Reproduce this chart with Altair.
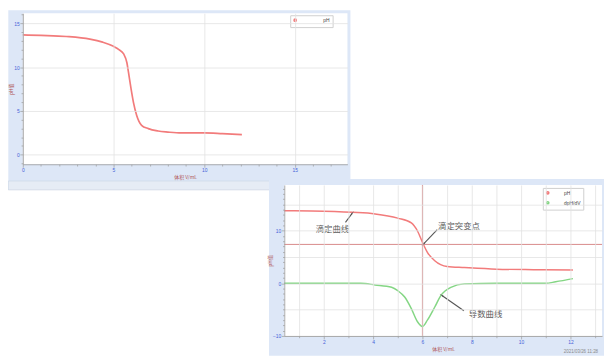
import math
import altair as alt
import pandas as pd

# ---------------- data ----------------
# Panel 1 (titration curve)
V1 = [0.0, 1.0, 2.4, 3.7, 4.4, 5.0, 5.3, 5.56, 5.74, 5.83, 5.97, 6.1, 6.28, 6.55, 6.92, 7.46, 8.0, 8.73, 10.0, 11.0, 12.08]
PH1 = [13.68, 13.62, 13.5, 13.2, 12.85, 12.37, 12.0, 11.5, 10.5, 9.36, 7.5, 5.97, 4.47, 3.35, 2.97, 2.7, 2.58, 2.48, 2.48, 2.4, 2.29]

# Panel 2 (titration curve + derivative curve)
V2 = [0.4, 1.5, 3.15, 4.08, 5.0, 5.55, 5.8, 6.0, 6.2, 6.5, 7.0, 7.7, 9.0, 10.5, 12.1]
PH2 = [13.8, 13.75, 13.5, 13.2, 12.4, 11.5, 9.95, 7.8, 5.9, 4.3, 3.2, 3.0, 2.7, 2.6, 2.55]
VD = [0.4, 2.0, 3.5, 4.08, 4.75, 5.0, 5.28, 5.55, 5.8, 6.0, 6.2, 6.5, 6.75, 7.15, 7.7, 9.0, 11.0, 11.4, 12.1]
DPH = [0.0, 0.0, 0.0, -0.3, -0.75, -1.4, -2.6, -4.8, -7.3, -8.2, -7.0, -4.5, -2.3, -0.75, -0.1, 0.0, 0.0, 0.3, 0.9]

SERIES = ["pH", "dpH/dV"]
EQ_V = 6.0
EQ_PH = 7.4

ANN_TEXT = ["滴定曲线", "滴定突变点", "导数曲线"]
ANN_X = [2.35, 7.48, 8.56]
ANN_Y = [10.3, 10.8, -5.8]
ARR_X1 = [2.88, 6.6, 7.68]
ARR_Y1 = [11.6, 10.2, -5.2]
ARR_X2 = [3.15, 6.05, 6.79]
ARR_Y2 = [13.3, 7.5, -2.3]

X_TITLE = "体积 V/mL"
Y_TITLE = "pH值"
STAMP = "2021/03/26 11:28"

# ---------------- styles ----------------
W1, H1 = 329, 153
W2, H2 = 322, 153
X1_DOM = [0, 17.9]
Y1_DOM = [-1.1, 16.15]
X2_DOM = [0.4, 13.28]
Y2_DOM = [-10.0, 18.7]

RED = "#f27b7b"
GREEN = "#84d684"
CROSS = "#d88a8a"
FRAME = "#dde7f7"
BAND = "#e6ecf5"
GRID = "#e2e2e2"
LABEL = "#4563d8"
TITLE = "#b05555"
CJK = "Noto Sans CJK SC"

one = pd.DataFrame({"a": [0]})


def is_mult(step):
    return f"abs(datum.value/{step} - round(datum.value/{step})) < 0.001"


def make_axis(count, tick_step, grid_step, label_step, title, tpad, orient):
    return alt.Axis(
        tickCount=count,
        title=title,
        format="d",
        titleFont=CJK,
        titleFontSize=5,
        titleColor=TITLE,
        titleFontWeight="normal",
        titlePadding=tpad,
        labelExpr=f"{is_mult(label_step)} ? datum.label : ''",
        labelFont="Liberation Sans",
        labelFontSize=5,
        labelColor=LABEL,
        labelFlush=False,
        labelOverlap=False,
        labelPadding=0.5,
        grid=True,
        gridColor=GRID,
        gridWidth=0.8,
        gridOpacity={"condition": {"test": is_mult(grid_step), "value": 1}, "value": 0},
        tickColor="#9a9a9a",
        tickWidth=0.7,
        tickOpacity={"condition": {"test": is_mult(tick_step), "value": 1}, "value": 0},
        tickSize={"condition": {"test": is_mult(label_step), "value": 3}, "value": 1.8},
        domainColor="#9a9a9a",
        domainWidth=0.8,
        zindex=1,
        orient=orient,
    )


def frame_layers(w, h, left, top, right, bottom):
    frame = alt.Chart(one).mark_rect(color=FRAME).encode(
        x=alt.value(-left), x2=alt.value(w + right),
        y=alt.value(-top), y2=alt.value(h + bottom))
    white = alt.Chart(one).mark_rect(color="white").encode(
        x=alt.value(0), x2=alt.value(w), y=alt.value(0), y2=alt.value(h))
    return frame, white


# ---------------- panel 1 ----------------
df1 = pd.DataFrame({"V": V1, "pH": PH1, "series": SERIES[0]})
xs1 = alt.Scale(domain=X1_DOM, nice=False, zero=False)
ys1 = alt.Scale(domain=Y1_DOM, nice=False, zero=False)

frame1, white1 = frame_layers(W1, H1, 14.7, 3, 3, 26)
band1 = alt.Chart(one).mark_rect(color=BAND, stroke="#c9d3e2", strokeWidth=0.6).encode(
    x=alt.value(-14.7), x2=alt.value(W1 + 3), y=alt.value(H1 + 17), y2=alt.value(H1 + 26))

line1 = alt.Chart(df1).mark_line(strokeWidth=1.7, interpolate="monotone").encode(
    x=alt.X("V:Q", scale=xs1, axis=make_axis(36, 0.5, 2.5, 5, X_TITLE, 2, "bottom")),
    y=alt.Y("pH:Q", scale=ys1, axis=make_axis(35, 0.5, 2.5, 5, Y_TITLE, 0, "left")),
    color=alt.Color("series:N", scale=alt.Scale(domain=[SERIES[0]], range=[RED]),
                    legend=alt.Legend(title=None, orient="none", legendX=271, legendY=2,
                                      symbolType="circle", symbolSize=5, symbolStrokeWidth=1.5,
                                      labelFontSize=5, labelColor="#444", labelFont="Liberation Sans",
                                      labelOffset=26, padding=2.5, fillColor="white",
                                      strokeColor="#cfcfcf")),
)

panel1 = alt.layer(frame1, band1, white1, line1).properties(width=W1, height=H1)

# ---------------- panel 2 ----------------
df2 = pd.concat([
    pd.DataFrame({"V": V2, "val": PH2, "series": SERIES[0]}),
    pd.DataFrame({"V": VD, "val": DPH, "series": SERIES[1]}),
], ignore_index=True)
xs2 = alt.Scale(domain=X2_DOM, nice=False, zero=False)
ys2 = alt.Scale(domain=Y2_DOM, nice=False, zero=False)

ax_x2 = make_axis(26, 0.5, 1, 2, X_TITLE, 2, "bottom")
ax_y2 = make_axis(60, 1, 2.5, 10, Y_TITLE, 0, "left")

frame2, white2 = frame_layers(W2, H2, 15.5, 6, 2, 20)

lines2 = alt.Chart(df2).mark_line(strokeWidth=1.5, interpolate="monotone").encode(
    x=alt.X("V:Q", scale=xs2, axis=ax_x2),
    y=alt.Y("val:Q", scale=ys2, axis=ax_y2),
    color=alt.Color("series:N", scale=alt.Scale(domain=SERIES, range=[RED, GREEN]),
                    legend=alt.Legend(title=None, orient="none", legendX=262, legendY=3,
                                      symbolType="circle", symbolSize=5, symbolStrokeWidth=1.5,
                                      labelFontSize=5, labelColor="#444", labelFont="Liberation Sans",
                                      labelOffset=14, padding=2.5, rowPadding=1,
                                      fillColor="white", strokeColor="#cfcfcf")),
    detail="series:N",
)

eq = pd.DataFrame({"V": [EQ_V], "val": [EQ_PH]})
vrule = alt.Chart(eq).mark_rule(color=CROSS, strokeWidth=1).encode(
    x=alt.X("V:Q", scale=xs2, axis=ax_x2))
hrule = alt.Chart(eq).mark_rule(color=CROSS, strokeWidth=1).encode(
    y=alt.Y("val:Q", scale=ys2, axis=ax_y2))

px_x = W2 / (X2_DOM[1] - X2_DOM[0])
px_y = H2 / (Y2_DOM[1] - Y2_DOM[0])
angles = []
for x1, y1, x2, y2 in zip(ARR_X1, ARR_Y1, ARR_X2, ARR_Y2):
    dx = (x2 - x1) * px_x
    dy = -(y2 - y1) * px_y
    angles.append(math.degrees(math.atan2(dx, -dy)) % 360)

arr = pd.DataFrame({"x1": ARR_X1, "y1": ARR_Y1, "x2": ARR_X2, "y2": ARR_Y2, "ang": angles})
arrows = alt.Chart(arr).mark_rule(color="#555555", strokeWidth=1.1).encode(
    x=alt.X("x1:Q", scale=xs2, axis=ax_x2), y=alt.Y("y1:Q", scale=ys2, axis=ax_y2),
    x2="x2:Q", y2="y2:Q")
heads = alt.Chart(arr).mark_point(shape="wedge", filled=True, color="#555555", size=28, opacity=1).encode(
    x=alt.X("x2:Q", scale=xs2, axis=ax_x2), y=alt.Y("y2:Q", scale=ys2, axis=ax_y2),
    angle=alt.Angle("ang:Q", scale=None))

ann = pd.DataFrame({"t": ANN_TEXT, "x": ANN_X, "y": ANN_Y})
texts = alt.Chart(ann).mark_text(font=CJK, fontSize=8.5, color="#5a5a5a").encode(
    x=alt.X("x:Q", scale=xs2, axis=ax_x2), y=alt.Y("y:Q", scale=ys2, axis=ax_y2), text="t:N")

stamp = alt.Chart(pd.DataFrame({"t": [STAMP]})).mark_text(
    font="Liberation Sans", fontSize=4.5, color="#8a8a8a", align="right").encode(
    x=alt.value(W2 - 4), y=alt.value(H2 + 16), text="t:N")

panel2 = alt.layer(frame2, white2, vrule, hrule, lines2, arrows, heads, texts, stamp).properties(
    width=W2, height=H2)

spacer = alt.Chart(one).mark_point(opacity=0).encode(
    x=alt.value(0), y=alt.value(0)).properties(width=265, height=10)

row2 = alt.hconcat(spacer, panel2, spacing=0, bounds="flush").resolve_scale(
    color="independent").resolve_legend(color="independent")

chart = alt.vconcat(panel1, row2, spacing=21, bounds="flush").resolve_scale(
    color="independent").resolve_legend(color="independent").properties(
    padding=0, background="white").configure_view(stroke=None).configure_axis(
    labelOverlap=False, labelFlush=False, labelBound=False)

chart.save("out.html", embed_options={"renderer": "svg", "actions": False})
